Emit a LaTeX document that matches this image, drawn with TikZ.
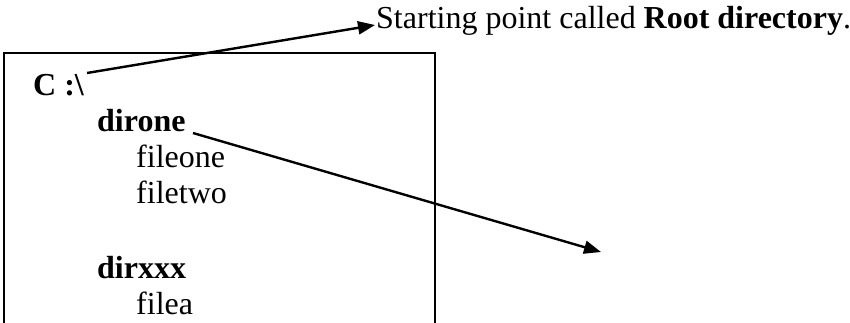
\documentclass[tikz,border=0pt]{standalone}
\usepackage{fontspec}
\setmainfont{Liberation Serif}
\usetikzlibrary{arrows.meta}
\begin{document}
\begin{tikzpicture}[x=1pt,y=-1pt,
  txt/.style={anchor=base west,inner sep=0pt,font=\fontsize{32pt}{36pt}\selectfont},
  btxt/.style={txt,font=\fontsize{32pt}{36pt}\selectfont\bfseries},
  conn/.style={line width=2.4pt,-{Triangle[length=17pt,width=13pt]}},
  frame/.style={line width=1.4pt}]
\useasboundingbox (0,0) rectangle (850,322);
\clip (0,0) rectangle (850,322);
\draw[frame] (4,340) -- (4,53) -- (435,53) -- (435,340);
\node[btxt] (root) at (33,95) {C :\textbackslash};
\node[btxt] (dirone) at (97,131) {dirone};
\node[txt] (fileone) at (136,167) {fileone};
\node[txt] (filetwo) at (136,203) {filetwo};
\node[btxt] (dirxxx) at (97,278) {dirxxx};
\node[txt] (filea) at (136,314) {filea};
\node[txt] (label) at (376,28) {Starting point called \textbf{Root directory}.};
\coordinate (a1s) at (87,73);
\coordinate (a1e) at (375,25);
\coordinate (a2s) at (193,133);
\coordinate (a2e) at (601,252);
\draw[conn] (a1s) -- (a1e);
\draw[conn] (a2s) -- (a2e);
\end{tikzpicture}
\end{document}
